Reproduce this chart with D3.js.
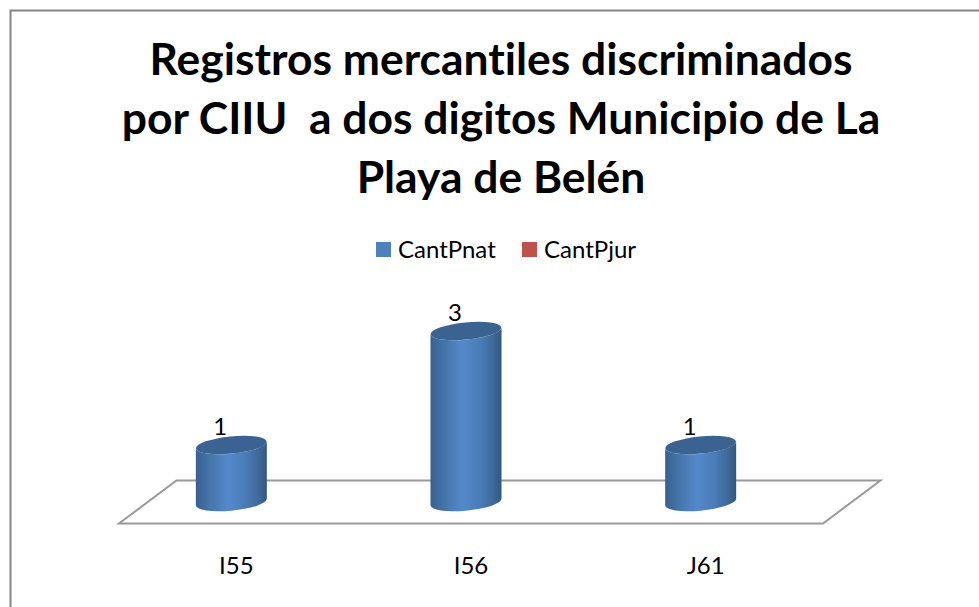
<!DOCTYPE html>
<html><head><meta charset="utf-8">
<script src="https://cdn.jsdelivr.net/npm/d3@7/dist/d3.min.js"></script>
<style>html,body{margin:0;padding:0;background:#fff;overflow:hidden}svg{display:block}text{font-family:Lato,"Open Sans",sans-serif;fill:#000;font-variant-ligatures:none}</style>
</head><body><svg id="c" width="979" height="607"></svg>
<script>
const categories = ["I55", "I56", "J61"];
const cantPnat = [1, 3, 1];
const cantPjur = [0, 0, 0];
const seriesNames = ["CantPnat", "CantPjur"];
const seriesColors = ["#4f81bd", "#c0504d"];
const titleLines = ["Registros mercantiles discriminados", "por CIIU  a dos digitos Municipio de La", "Playa de Belén"];

const svg = d3.select("#c");
svg.append("path").attr("d","M979,10.5H10.5V607").attr("fill","none").attr("stroke","#868686").attr("stroke-width",2);

svg.append("g").selectAll("text").data(titleLines).join("text")
  .attr("x",501).attr("y",(d,i)=>75+i*59).attr("text-anchor","middle")
  .attr("font-size",44.4).attr("font-weight",700).style("white-space","pre").text(d=>d);

const legendX=[376,522];
const lg=svg.append("g").selectAll("g").data(seriesNames).join("g").attr("transform",(d,i)=>`translate(${legendX[i]},242)`);
lg.append("rect").attr("width",15).attr("height",15).attr("fill",(d,i)=>seriesColors[i]);
lg.append("text").attr("x",22).attr("y",16).attr("font-size",24).text(d=>d);

const x=d3.scaleBand().domain(categories).range([119,823]);
const y=d3.scaleLinear().domain([0,3]).range([502,331]);

const floorBack=480.5, floorFront=523.5, depth=57.5;
svg.append("path").attr("d",`M${x.range()[0]},${floorFront}L${x.range()[1]},${floorFront}L${x.range()[1]+depth},${floorBack}L${x.range()[0]+depth},${floorBack}Z`)
  .attr("fill","none").attr("stroke","#9a9a9a").attr("stroke-width",2);

const defs=svg.append("defs");
const grad=defs.append("linearGradient").attr("id","cyl").attr("x1",0).attr("x2",1).attr("y1",0).attr("y2",0);
[[0,"#38618f"],[0.18,"#4473a8"],[0.45,"#5588cb"],[0.7,"#4a7cb8"],[0.9,"#3d6796"],[1,"#325681"]].forEach(s=>grad.append("stop").attr("offset",s[0]).attr("stop-color",s[1]));

const rx=35.5, ry=8.6, tilt=-5.5, slope=3.2;
const g=svg.append("g");
categories.forEach((c,i)=>{
  const cx=x(c)+x.bandwidth()/2-5, top=y(cantPnat[i]), base=y(0);
  g.append("path").attr("fill","url(#cyl)")
   .attr("d",`M${cx-rx},${top+slope}L${cx-rx},${base+slope}A${rx},${ry} ${tilt} 0 0 ${cx+rx},${base-slope}L${cx+rx},${top-slope}A${rx},${ry} ${tilt} 0 1 ${cx-rx},${top+slope}Z`);
  g.append("ellipse").attr("cx",cx).attr("cy",top).attr("rx",rx).attr("ry",ry)
   .attr("transform",`rotate(${tilt} ${cx} ${top})`).attr("fill","#3b6391");
  g.append("text").attr("x",cx-11).attr("y",top-10).attr("text-anchor","middle").attr("font-size",24).text(cantPnat[i]);
  svg.append("text").attr("x",x(c)+x.bandwidth()/2).attr("y",574).attr("text-anchor","middle").attr("font-size",24).text(c);
});
</script></body></html>
